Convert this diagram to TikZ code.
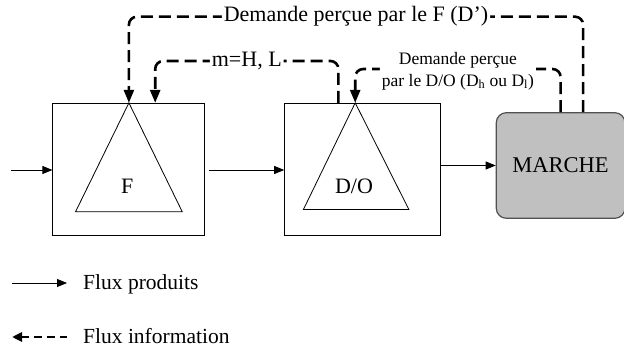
\documentclass[tikz,border=0pt]{standalone}
\usepackage{fontspec}
\setmainfont{Liberation Serif}
\usetikzlibrary{positioning,arrows.meta,calc}
\definecolor{mgray}{HTML}{C0C0C0}
\definecolor{mborder}{HTML}{505050}
\tikzstyle{ubox}=[rectangle, draw=black, line width=1pt, minimum width=152pt,
                  minimum height=131.7pt, inner sep=0pt]
\tikzstyle{mbox}=[rectangle, rounded corners=10pt, draw=mborder, fill=mgray,
                  line width=1.2pt, minimum width=128.6pt, minimum height=105.6pt,
                  font=\fontsize{22.5}{26}\selectfont]
\tikzstyle{pline}=[-{Triangle[length=10pt,width=8pt]}, line width=0.8pt]
\tikzstyle{iline}=[-{Triangle[length=13pt,width=10pt]}, line width=2.6pt,
                   dash pattern=on 12pt off 6pt, rounded corners=8pt]
\tikzstyle{tri}=[line width=0.8pt]
\tikzstyle{lbl}=[fill=white, inner sep=2pt, font=\fontsize{22}{26}\selectfont]
\tikzstyle{slbl}=[fill=white, inner sep=2pt, align=center,
                  font=\fontsize{17.5}{21.7}\selectfont]
\tikzstyle{lgd}=[inner sep=0pt, font=\fontsize{21.5}{26}\selectfont]
\begin{document}
\begin{tikzpicture}[x=1pt,y=-1pt]
\useasboundingbox (0,0) rectangle (624,347);

\node (FBOX) [ubox] at (128.9,169.2) {};
\node (DOBOX) [ubox, right=78.8pt of FBOX, minimum width=156pt] {};
\node (MRKT) [mbox, right=54.5pt of DOBOX, yshift=3.7pt] {MARCHE};

\coordinate (FTOP) at (FBOX.north);
\draw[tri] (FTOP) -- ++(-53.4,109) -- ++(106.8,0) -- cycle;
\node (FLBL) [lbl, fill=none] at (127.3,186.7) {F};
\coordinate (DTOP) at ([xshift=-7.5pt]DOBOX.north);
\draw[tri] (DTOP) -- ++(-51.8,106.7) -- ++(105.5,0) -- cycle;
\node (DOLBL) [lbl, fill=none] at (354,186.7) {D/O};

\coordinate (IN) at (11,170);
 \draw[pline] (IN) -- (IN -| FBOX.west);
 \draw[pline, shorten <=4pt] (FBOX.east |- IN) -- (DOBOX.west |- IN);
 \draw[pline] (DOBOX.east |- MRKT.west) -- (MRKT.west);

\coordinate (TOPY) at (0,16.7);
 \draw[iline] ([xshift=22.5pt]MRKT.north) |- node[lbl,pos=0.75]{Demande perçue par le F (D’)}
   (FTOP |- TOPY) -- (FTOP);
\coordinate (MIDY) at (0,61);
 \draw[iline] ([xshift=-24.3pt]DOBOX.north) |- node[lbl,pos=0.75]{m=H, L}
   ([xshift=26.3pt]FBOX.north |- MIDY) -- ([xshift=26.3pt]FBOX.north);
\coordinate (LOWY) at (0,69);
 \draw[iline] (MRKT.north) |- node[slbl,pos=0.75,yshift=-2pt]{Demande perçue\\par le D/O (D\textsubscript{h} ou D\textsubscript{l})}
   (DTOP |- LOWY) -- (DTOP);

\coordinate (LA) at (12,283);
\coordinate (LB) at (67,283);
 \draw[pline] (LA) -- (LB);
\node (LPROD) [lgd, anchor=base west] at (83,290) {Flux produits};
\coordinate (LC) at (12,337);
\coordinate (LD) at (67,337);
 \draw[iline, {Triangle[length=10pt,width=9pt]}-, dash pattern=on 8pt off 5pt] (LC) -- (LD);
\node (LINFO) [lgd, anchor=base west] at (83,343.5) {Flux information};

\end{tikzpicture}
\end{document}
